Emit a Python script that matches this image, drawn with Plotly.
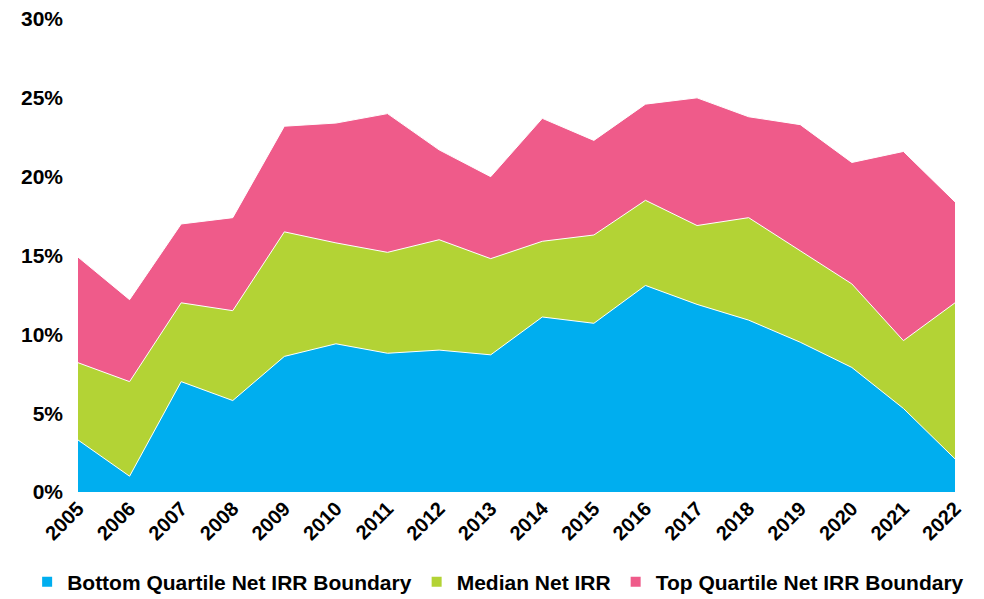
import plotly.graph_objects as go

years = list(range(2005, 2023))
top_quartile = [14.9, 12.2, 17.0, 17.4, 23.2, 23.4, 24.0, 21.7, 20.0, 23.7,
                22.3, 24.6, 25.0, 23.8, 23.3, 20.9, 21.6, 18.4]
median = [8.2, 7.0, 12.0, 11.5, 16.5, 15.8, 15.2, 16.0, 14.8, 15.9,
          16.3, 18.5, 16.9, 17.4, 15.3, 13.2, 9.6, 12.0]
bottom_quartile = [3.3, 1.0, 7.0, 5.8, 8.6, 9.4, 8.8, 9.0, 8.7, 11.1,
                   10.7, 13.1, 11.9, 10.9, 9.5, 7.9, 5.3, 2.1]

series = [
    ("Top Quartile Net IRR Boundary", top_quartile, "#EF5B8A"),
    ("Median Net IRR", median, "#B3D335"),
    ("Bottom Quartile Net IRR Boundary", bottom_quartile, "#00AEEF"),
]

fig = go.Figure()
# draw the top boundary first so the lower ones sit on top of it
for name, values, color in series:
    fig.add_trace(go.Scatter(
        x=years,
        y=values,
        name=name,
        mode="lines",
        fill="tozeroy",
        fillcolor=color,
        line=dict(color="white", width=1),
        showlegend=False,
    ))

# small square legend markers, bottom series first
for name, values, color in reversed(series):
    fig.add_trace(go.Scatter(
        x=[None],
        y=[None],
        name=name,
        mode="markers",
        marker=dict(symbol="square", size=10, color=color),
        showlegend=True,
    ))

font_family = "Liberation Sans, Arial, sans-serif"
fig.update_layout(
    width=984,
    height=599,
    margin=dict(l=70, r=37, t=11, b=115, autoexpand=False),
    plot_bgcolor="white",
    paper_bgcolor="white",
    font=dict(family=font_family, size=20, color="black"),
    showlegend=True,
    # left of and below the plot so the single row may use the left margin too
    legend=dict(
        orientation="h",
        x=-0.058,
        xanchor="left",
        y=-0.147,
        yanchor="top",
        font=dict(family=font_family, size=21, color="black", weight="bold"),
        itemwidth=30,
    ),
    xaxis=dict(
        range=[2005, 2022],
        tickmode="linear",
        tick0=2005,
        dtick=1,
        tickangle=-45,
        showgrid=False,
        zeroline=False,
        showline=False,
        automargin=False,
        ticklabeloverflow="allow",
        tickfont=dict(family=font_family, size=20, color="black", weight="bold"),
    ),
    yaxis=dict(
        range=[0, 30],
        tickmode="linear",
        tick0=0,
        dtick=5,
        ticksuffix="%",
        showgrid=False,
        zeroline=False,
        showline=False,
        automargin=False,
        ticklabeloverflow="allow",
        ticklabelstandoff=14,
        tickfont=dict(family=font_family, size=21, color="black", weight="bold"),
    ),
)

fig.write_html("out.html")
